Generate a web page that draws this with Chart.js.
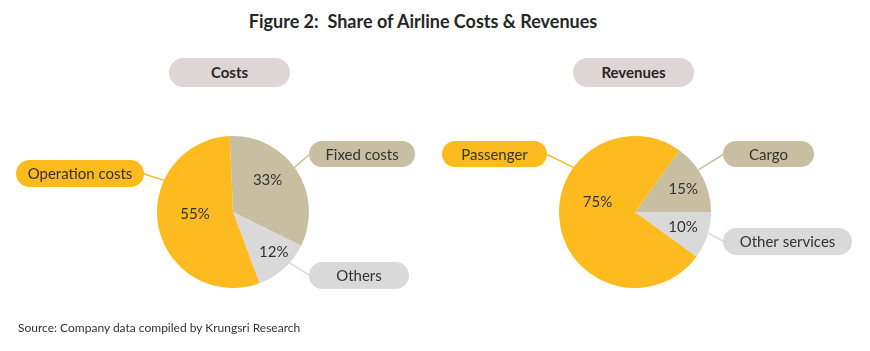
<!DOCTYPE html>
<html><head><meta charset="utf-8">
<script src="https://cdn.jsdelivr.net/npm/chart.js@4"></script>
<style>
body{margin:0;width:870px;height:351px;background:#fff;position:relative;overflow:hidden;font-family:Lato,"Open Sans",sans-serif;color:#333;}
#title{position:absolute;left:0;width:846px;top:10px;text-align:center;font-weight:bold;font-size:18px;color:#262626;white-space:pre;}
.head{position:absolute;top:58px;width:121px;height:29px;line-height:29px;border-radius:15px;background:#DED5D5;text-align:center;font-weight:bold;font-size:15px;color:#262626;}
#source{position:absolute;left:18px;top:320px;font-size:12px;color:#333;}
canvas{position:absolute;top:0;}
</style></head>
<body>
<div id="title">Figure 2:  Share of Airline Costs &amp; Revenues</div>
<div class="head" style="left:169px">Costs</div>
<div class="head" style="left:573px">Revenues</div>
<canvas id="c1" width="435" height="351" style="left:0"></canvas>
<canvas id="c2" width="435" height="351" style="left:435px"></canvas>
<div id="source">Source: Company data compiled by Krungsri Research</div>
<script>
const costLabels = ['Fixed costs', 'Others', 'Operation costs'];
const costValues = [33, 12, 55];
const revenueLabels = ['Cargo', 'Other services', 'Passenger'];
const revenueValues = [15, 10, 75];
const sliceColors = ['#C8BFA2', '#D9D9D9', '#FDBB1F'];

const FONT = 'Lato, "Open Sans", sans-serif';

const callouts = {
  id: 'callouts',
  afterDatasetsDraw(chart, args, opts) {
    const ctx = chart.ctx;
    const meta = chart.getDatasetMeta(0);
    const ds = chart.data.datasets[0];
    const total = ds.data.reduce((a, b) => a + b, 0);
    ctx.save();
    meta.data.forEach((arc, i) => {
      const p = arc.getProps(['x', 'y', 'startAngle', 'endAngle', 'outerRadius'], true);
      const cfg = opts.items[i];
      // leader line
      const a = (cfg.rim - 90) * Math.PI / 180;
      const sx = p.x + Math.cos(a) * p.outerRadius;
      const sy = p.y + Math.sin(a) * p.outerRadius;
      const b = cfg.box;
      const ex = cfg.side === 'left' ? b.x + 1 : b.x + b.w - 1;
      const ey = b.y + b.h / 2;
      ctx.strokeStyle = ds.backgroundColor[i];
      ctx.lineWidth = 1.5;
      ctx.beginPath(); ctx.moveTo(sx, sy); ctx.lineTo(ex, ey); ctx.stroke();
      // pill
      const r = b.h / 2;
      ctx.fillStyle = ds.backgroundColor[i];
      ctx.beginPath();
      ctx.moveTo(b.x + r, b.y);
      ctx.lineTo(b.x + b.w - r, b.y);
      ctx.arc(b.x + b.w - r, b.y + r, r, -Math.PI / 2, Math.PI / 2);
      ctx.lineTo(b.x + r, b.y + b.h);
      ctx.arc(b.x + r, b.y + r, r, Math.PI / 2, Math.PI * 1.5);
      ctx.closePath(); ctx.fill();
      ctx.fillStyle = '#333';
      ctx.font = '15px ' + FONT;
      ctx.textAlign = 'center'; ctx.textBaseline = 'middle';
      ctx.fillText(chart.data.labels[i], b.x + b.w / 2, b.y + b.h / 2 + 1);
      // percentage
      const mid = (p.startAngle + p.endAngle) / 2 + cfg.shift * Math.PI / 180;
      const lx = p.x + Math.cos(mid) * p.outerRadius * cfg.k;
      const ly = p.y + Math.sin(mid) * p.outerRadius * cfg.k;
      ctx.fillText(Math.round(ds.data[i] / total * 100) + '%', lx, ly);
    });
    ctx.restore();
  }
};

function makePie(id, labels, values, rotation, padding, items) {
  return new Chart(document.getElementById(id), {
    type: 'pie',
    data: { labels: labels, datasets: [{ data: values, backgroundColor: sliceColors, borderWidth: 0 }] },
    options: {
      responsive: false, animation: false, rotation: rotation,
      layout: { padding: padding },
      plugins: { legend: { display: false }, tooltip: { enabled: false }, callouts: { items: items } }
    },
    plugins: [callouts]
  });
}

makePie('c1', costLabels, costValues, -2.5,
  { left: 157, right: 126, top: 136, bottom: 63 },
  [
    { rim: 54, side: 'left', box: { x: 309, y: 141, w: 106, h: 26 }, shift: -9.6, k: 0.62 },
    { rim: 132, side: 'left', box: { x: 309, y: 262, w: 100, h: 27 }, shift: -3.5, k: 0.75 },
    { rim: 294.6, side: 'right', box: { x: 16, y: 160, w: 128, h: 27 }, shift: 8.5, k: 0.5 }
  ]);

makePie('c2', revenueLabels, revenueValues, 36,
  { left: 124, right: 159, top: 136, bottom: 63 },
  [
    { rim: 56.3, side: 'left', box: { x: 288, y: 141, w: 91, h: 26 }, shift: 2, k: 0.7 },
    { rim: 106, side: 'left', box: { x: 288, y: 228, w: 129, h: 27 }, shift: -1, k: 0.66 },
    { rim: 306, side: 'right', box: { x: 7, y: 141, w: 105, h: 26 }, shift: 24, k: 0.51 }
  ]);
</script>
</body></html>
